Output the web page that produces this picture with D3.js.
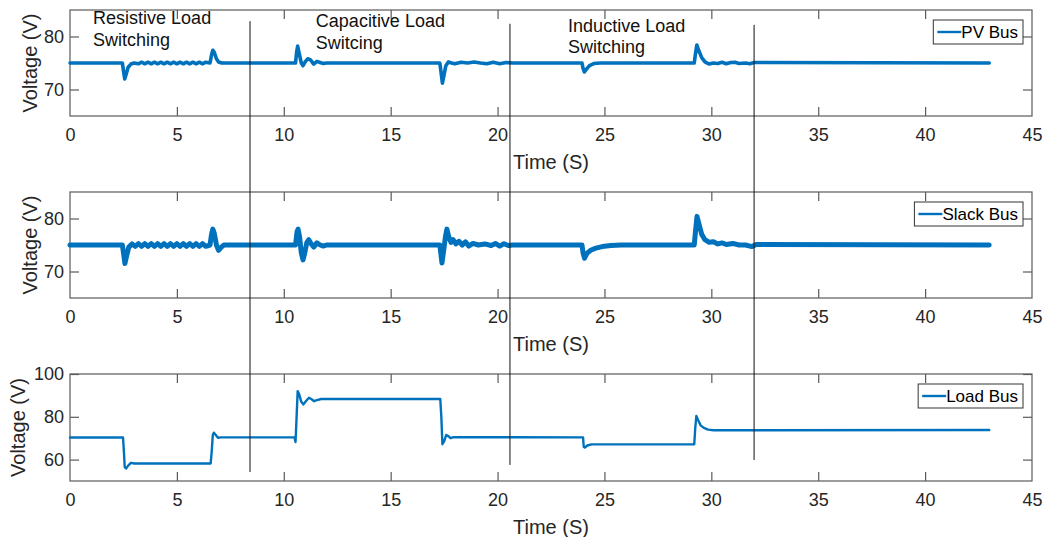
<!DOCTYPE html>
<html>
<head>
<meta charset="utf-8">
<script src="https://cdn.jsdelivr.net/npm/d3@7"></script>
<style>
  html, body { margin: 0; padding: 0; background: #fff; }
  svg { display: block; font-family: "Liberation Sans", Arial, Helvetica, sans-serif; }
</style>
</head>
<body>
<svg id="chart" width="1045" height="537"></svg>
<script>
// Time axis (seconds)
const timeTicks = [0, 5, 10, 15, 20, 25, 30, 35, 40, 45];

// PV bus voltage trace
const pvTime = [0, 2.45, 2.52, 2.56, 2.62, 2.72, 2.85, 3.0, 3.2, 3.35, 3.5, 3.65, 3.8, 3.95, 4.1, 4.25, 4.4, 4.55, 4.7, 4.85, 5.0, 5.15, 5.3, 5.45, 5.6, 5.75, 5.9, 6.05, 6.2, 6.35, 6.55, 6.62, 6.68, 6.75, 6.85, 6.95, 7.1, 10.55, 10.6, 10.65, 10.72, 10.82, 10.9, 11.0, 11.12, 11.25, 11.4, 11.55, 11.7, 11.85, 12.0, 17.3, 17.35, 17.42, 17.5, 17.58, 17.7, 17.85, 18.0, 18.3, 18.6, 18.9, 19.2, 19.5, 19.8, 20.1, 20.4, 20.7, 23.95, 24.0, 24.06, 24.15, 24.3, 24.5, 24.8, 29.2, 29.25, 29.32, 29.4, 29.55, 29.7, 29.9, 30.1, 30.3, 30.5, 30.7, 30.9, 31.1, 31.3, 31.6, 31.8, 32.0, 43.0];
const pvVolt = [75.0, 75.0, 73.0, 72.0, 72.8, 74.2, 74.8, 75.0, 74.85, 75.15, 74.85, 75.15, 74.85, 75.15, 74.85, 75.15, 74.85, 75.15, 74.85, 75.15, 74.85, 75.15, 74.85, 75.15, 74.85, 75.15, 74.85, 75.15, 74.85, 75.15, 75.0, 76.5, 77.4, 77.0, 75.8, 75.2, 75.0, 75.0, 77.0, 78.2, 76.8, 75.0, 74.5, 75.2, 75.8, 75.6, 74.8, 75.3, 75.1, 74.9, 75.0, 75.0, 73.5, 71.2, 72.8, 74.5, 75.2, 75.0, 74.85, 75.15, 75.0, 75.2, 75.0, 74.85, 75.15, 74.85, 75.1, 75.0, 75.0, 74.0, 73.3, 73.8, 74.5, 74.9, 75.0, 75.0, 76.5, 78.4, 77.5, 76.0, 75.2, 74.8, 75.0, 74.9, 75.15, 74.85, 75.1, 75.15, 74.9, 75.0, 74.85, 75.1, 75.0];

// Slack bus voltage trace
const slackTime = [0, 2.45, 2.52, 2.57, 2.64, 2.75, 2.9, 3.05, 3.2, 3.35, 3.5, 3.65, 3.8, 3.95, 4.1, 4.25, 4.4, 4.55, 4.7, 4.85, 5.0, 5.15, 5.3, 5.45, 5.6, 5.75, 5.9, 6.05, 6.2, 6.35, 6.55, 6.62, 6.68, 6.75, 6.85, 6.95, 7.08, 7.2, 10.55, 10.62, 10.67, 10.74, 10.82, 10.9, 10.98, 11.08, 11.17, 11.27, 11.4, 11.55, 11.7, 11.85, 12.0, 17.3, 17.36, 17.4, 17.48, 17.56, 17.63, 17.72, 17.82, 17.92, 18.05, 18.2, 18.35, 18.5, 18.65, 18.85, 19.1, 19.4, 19.7, 19.9, 20.1, 20.3, 20.5, 20.7, 23.95, 24.0, 24.07, 24.18, 24.35, 24.6, 24.9, 25.3, 25.8, 29.2, 29.27, 29.33, 29.42, 29.55, 29.7, 29.9, 30.1, 30.3, 30.5, 30.7, 31.0, 31.3, 31.6, 31.9, 32.1, 43.0];
const slackVolt = [75.0, 75.0, 73.0, 71.5, 72.8, 74.6, 75.2, 74.75, 75.25, 74.75, 75.25, 74.75, 75.25, 74.75, 75.25, 74.75, 75.25, 74.75, 75.25, 74.75, 75.25, 74.75, 75.25, 74.75, 75.25, 74.75, 75.25, 74.75, 75.25, 74.75, 75.0, 77.0, 78.0, 77.2, 75.0, 74.0, 74.6, 75.0, 75.0, 77.5, 78.0, 76.5, 73.5, 72.2, 73.5, 75.5, 76.0, 75.3, 74.6, 75.4, 75.0, 74.8, 75.0, 75.0, 73.0, 71.6, 74.0, 76.5, 78.0, 76.5, 75.5, 76.0, 75.2, 75.7, 75.0, 75.6, 74.8, 75.3, 75.0, 75.2, 74.9, 75.3, 74.8, 75.25, 74.9, 75.0, 75.0, 73.5, 72.5, 73.4, 74.0, 74.4, 74.7, 74.9, 75.0, 75.0, 78.0, 80.4, 79.0, 77.0, 76.0, 75.5, 75.6, 75.2, 75.4, 75.1, 75.3, 75.0, 75.0, 74.7, 75.1, 75.0];

// Load bus voltage trace
const loadTime = [0, 2.48, 2.52, 2.56, 2.62, 2.72, 2.85, 3.0, 6.58, 6.63, 6.68, 6.73, 6.82, 6.92, 7.05, 10.5, 10.55, 10.6, 10.65, 10.72, 10.82, 10.92, 11.05, 11.18, 11.3, 11.42, 11.55, 11.75, 17.32, 17.37, 17.42, 17.5, 17.6, 17.7, 17.8, 17.95, 24.0, 24.03, 24.08, 24.2, 24.4, 29.2, 29.25, 29.3, 29.38, 29.5, 29.65, 29.85, 30.1, 43.0];
const loadVolt = [70.3, 70.3, 64.0, 56.5, 55.8, 57.2, 58.5, 58.2, 58.2, 64.0, 71.5, 72.6, 71.5, 70.2, 70.4, 70.4, 68.2, 80.0, 92.0, 90.5, 87.0, 85.8, 87.5, 88.9, 88.2, 87.3, 87.8, 88.3, 88.3, 80.0, 67.2, 68.5, 71.5, 71.0, 70.0, 70.5, 70.4, 66.0, 65.6, 66.6, 67.1, 67.1, 75.0, 80.4, 78.5, 76.0, 74.8, 74.0, 73.7, 73.8];

// Voltage ticks per panel
const pvTicks = [70, 80];
const slackTicks = [70, 80];
const loadTicks = [60, 80, 100];

// Switching-event separators: time, top voltage (PV panel), bottom voltage (load panel)
const eventTimes = [8.42, 20.58, 32.0];
const eventTopVolt = [82.9, 82.4, 82.2];
const eventBottomVolt = [54.2, 57.5, 59.8];

// Event annotations (two lines each), anchored at time / PV voltage
const noteLines1 = ["Resistive Load", "Capacitive Load", "Inductive Load"];
const noteLines2 = ["Switching", "Switcing", "Switching"];
const noteTime = [1.08, 11.5, 23.3];
const noteVolt1 = [82.4, 81.8, 80.8];
const noteVolt2 = [78.3, 77.7, 76.9];

const BLUE = "#0072BD";
const AXIS = "#5a5a5a";
const TEXT = "#262626";

const svg = d3.select("#chart");
const x = d3.scaleLinear().domain([0, 45]).range([70, 1032]);

const panels = [
  { name: "PV Bus", t: pvTime, v: pvVolt, ticks: pvTicks, domain: [65, 85], top: 10, bottom: 116, width: 3.6, labelOff: 40 },
  { name: "Slack Bus", t: slackTime, v: slackVolt, ticks: slackTicks, domain: [65, 85], top: 192, bottom: 298, width: 5.0, labelOff: 40 },
  { name: "Load Bus", t: loadTime, v: loadVolt, ticks: loadTicks, domain: [50, 100], top: 374, bottom: 481, width: 2.4, labelOff: 52 }
];

panels.forEach(p => {
  p.y = d3.scaleLinear().domain(p.domain).range([p.bottom, p.top]);
  const g = svg.append("g");

  // box
  g.append("rect")
    .attr("x", x(0)).attr("y", p.top)
    .attr("width", x(45) - x(0)).attr("height", p.bottom - p.top)
    .attr("fill", "none").attr("stroke", AXIS).attr("stroke-width", 1.2);

  // bottom axis with labels
  const ax = g.append("g").attr("transform", `translate(0,${p.bottom})`)
    .call(d3.axisBottom(x).tickValues(timeTicks).tickSizeInner(-9).tickSizeOuter(0).tickPadding(12));
  // top ticks
  const axT = g.append("g").attr("transform", `translate(0,${p.top})`)
    .call(d3.axisTop(x).tickValues(timeTicks).tickSizeInner(-9).tickSizeOuter(0).tickFormat(""));
  // left axis with labels
  const ay = g.append("g").attr("transform", `translate(${x(0)},0)`)
    .call(d3.axisLeft(p.y).tickValues(p.ticks).tickSizeInner(-9).tickSizeOuter(0).tickPadding(6));
  // right ticks
  const ayR = g.append("g").attr("transform", `translate(${x(45)},0)`)
    .call(d3.axisRight(p.y).tickValues(p.ticks).tickSizeInner(-9).tickSizeOuter(0).tickFormat(""));

  [ax, axT, ay, ayR].forEach(a => {
    a.select(".domain").remove();
    a.selectAll(".tick line").attr("stroke", AXIS).attr("stroke-width", 1.2);
    a.selectAll("text").attr("fill", TEXT).style("font-size", "18px");
  });
  // the box already draws the corner ticks
  [ax, axT].forEach(a => a.selectAll(".tick").filter(d => d === 0 || d === 45).select("line").remove());

  // axis titles
  g.append("text")
    .attr("x", (x(0) + x(45)) / 2).attr("y", p.bottom + 46)
    .attr("text-anchor", "middle").attr("dominant-baseline", "central")
    .attr("fill", TEXT).style("font-size", "20px").text("Time (S)");
  g.append("text")
    .attr("transform", `translate(${x(0) - p.labelOff},${(p.top + p.bottom) / 2}) rotate(-90)`)
    .attr("text-anchor", "middle").attr("dominant-baseline", "central")
    .attr("fill", TEXT).style("font-size", "20px").text("Voltage (V)");

  // trace
  const pts = p.t.map((t, i) => [t, p.v[i]]);
  g.append("path")
    .datum(pts)
    .attr("fill", "none").attr("stroke", BLUE).attr("stroke-width", p.width)
    .attr("stroke-linejoin", "round").attr("stroke-linecap", "round")
    .attr("d", d3.line().x(d => x(d[0])).y(d => p.y(d[1])));

  // legend
  const lg = g.append("g");
  const lt = lg.append("text").attr("fill", "#000").style("font-size", "17px")
    .attr("dominant-baseline", "central").text(p.name);
  const tw = lt.node().getComputedTextLength();
  const bw = 4 + 24 + tw + 5, bh = 24;
  const bx = x(45) - 9 - bw, by = p.top + 10;
  lg.insert("rect", "text")
    .attr("x", bx).attr("y", by).attr("width", bw).attr("height", bh)
    .attr("fill", "#fff").attr("stroke", "#333").attr("stroke-width", 1);
  lg.append("line")
    .attr("x1", bx + 4).attr("x2", bx + 28).attr("y1", by + bh / 2).attr("y2", by + bh / 2)
    .attr("stroke", BLUE).attr("stroke-width", 2.4);
  lt.attr("x", bx + 28).attr("y", by + bh / 2 + 0.5);
});

// event separators spanning all panels
const pv = panels[0], ld = panels[2];
svg.append("g").selectAll("line").data(eventTimes).join("line")
  .attr("x1", d => x(d)).attr("x2", d => x(d))
  .attr("y1", (d, i) => pv.y(eventTopVolt[i]))
  .attr("y2", (d, i) => ld.y(eventBottomVolt[i]))
  .attr("stroke", "#111").attr("stroke-width", 1);

// annotations
const notes = svg.append("g").style("font-size", "18px").attr("fill", "#111");
noteTime.forEach((t, i) => {
  notes.append("text").attr("x", x(t)).attr("y", pv.y(noteVolt1[i])).text(noteLines1[i]);
  notes.append("text").attr("x", x(t)).attr("y", pv.y(noteVolt2[i])).text(noteLines2[i]);
});
</script>
</body>
</html>
